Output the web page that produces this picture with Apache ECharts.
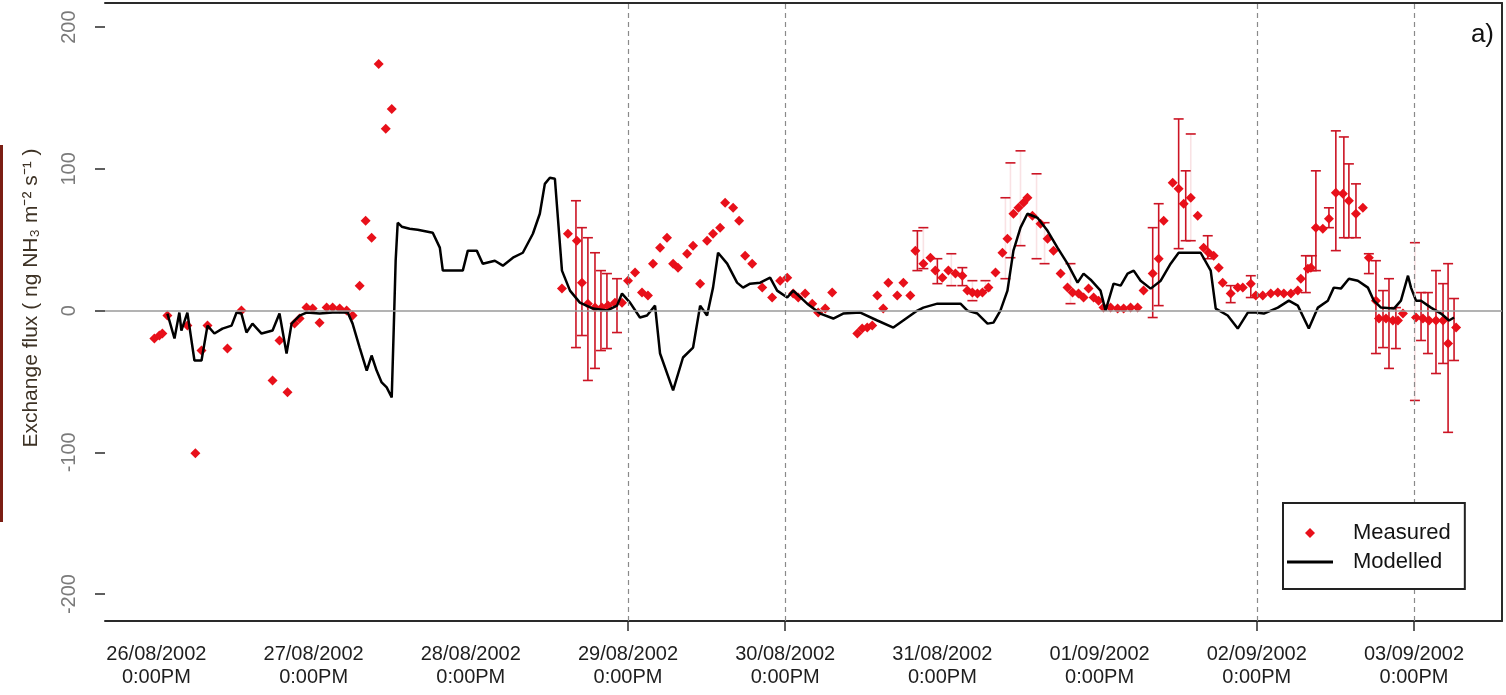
<!DOCTYPE html>
<html>
<head>
<meta charset="utf-8">
<title>NH3 exchange: measured vs modelled</title>
<script src="https://cdn.jsdelivr.net/npm/echarts@6/dist/echarts.min.js"></script>
<style>
  html, body { margin: 0; padding: 0; background: #fff; }
  #chart { width: 1506px; height: 695px; }
</style>
</head>
<body>
<div id="chart"></div>
<script>
// Time is counted in days from 26/08/2002 12:00.
const tickDays = [0, 1, 2, 3, 4, 5, 6, 7, 8];
const tickDates = ['26/08/2002', '27/08/2002', '28/08/2002', '29/08/2002', '30/08/2002',
                   '31/08/2002', '01/09/2002', '02/09/2002', '03/09/2002'];
const tickTimes = ['0:00PM', '0:00PM', '0:00PM', '0:00PM', '0:00PM',
                   '0:00PM', '0:00PM', '0:00PM', '0:00PM'];
const markedDays = [3, 4, 7, 8];
const yTicks = [-200, -100, 0, 100, 200];

// Modelled flux [day, value]
const modelled = [
  [0.070,-2.1],[0.115,-19.7],[0.146,-1.4],[0.159,-14.1],[0.197,-1.4],[0.242,-35.2],[0.287,-35.2],
  [0.325,-10.6],[0.369,-16.2],[0.420,-12.7],[0.478,-10.6],[0.510,-1.4],[0.541,-2.1],[0.573,-15.5],
  [0.611,-9.2],[0.669,-16.2],[0.739,-14.1],[0.783,-2.1],[0.828,-30.3],[0.860,-9.2],[0.911,-3.5],
  [0.955,-1.4],[1.038,-2.1],[1.121,-1.4],[1.217,-1.4],[1.248,-9.2],[1.293,-26.1],[1.338,-42.3],
  [1.369,-31.7],[1.401,-42.3],[1.433,-50.7],[1.465,-54.2],[1.497,-61.3],[1.510,-12.0],[1.522,35.2],
  [1.535,62.0],[1.561,59.2],[1.611,57.7],[1.662,57.0],[1.758,54.9],[1.803,44.4],[1.822,28.2],
  [1.885,28.2],[1.949,28.2],[1.981,42.3],[2.038,42.3],[2.076,33.1],[2.153,35.2],[2.204,31.7],
  [2.268,37.3],[2.331,40.8],[2.395,54.2],[2.439,68.3],[2.471,89.4],[2.503,93.7],[2.535,93.0],
  [2.554,65.5],[2.580,28.2],[2.631,14.1],[2.694,5.6],[2.777,1.4],[2.866,0],[2.930,3.5],[2.962,12.0],
  [3.013,5.6],[3.076,-4.9],[3.121,-3.5],[3.172,3.5],[3.204,-30.3],[3.287,-56.3],[3.350,-33.1],
  [3.414,-26.1],[3.459,3.5],[3.503,-3.5],[3.541,16.2],[3.573,40.8],[3.631,33.1],[3.694,19.7],
  [3.732,16.2],[3.777,19.0],[3.841,19.7],[3.904,23.2],[3.949,14.1],[4.013,9.2],[4.051,14.1],
  [4.140,4.9],[4.223,-2.1],[4.306,-5.6],[4.369,-2.1],[4.478,-1.4],[4.586,-7.0],[4.688,-12.0],
  [4.841,0],[4.879,2.1],[4.968,4.9],[5.115,4.9],[5.159,0],[5.223,-2.1],[5.287,-9.2],[5.325,-8.5],
  [5.369,0],[5.414,14.1],[5.452,42.3],[5.497,58.5],[5.541,68.3],[5.605,65.5],[5.669,56.3],
  [5.732,44.4],[5.796,33.1],[5.860,19.7],[5.898,26.1],[5.943,21.8],[6.006,14.1],[6.038,0],
  [6.089,19.0],[6.134,17.6],[6.178,26.1],[6.217,28.2],[6.261,21.1],[6.325,15.5],[6.389,21.1],
  [6.452,33.1],[6.503,40.8],[6.643,40.8],[6.707,28.2],[6.739,1.4],[6.815,-3.5],[6.879,-12.7],
  [6.943,-1.4],[6.994,-1.4],[7.045,-2.1],[7.134,2.1],[7.204,7.0],[7.261,3.5],[7.331,-12.7],
  [7.389,2.1],[7.452,7.0],[7.490,16.2],[7.535,15.5],[7.586,22.5],[7.643,21.1],[7.707,16.2],
  [7.745,7.0],[7.790,2.1],[7.873,1.4],[7.917,7.0],[7.962,24.6],[7.981,16.2],[8.013,7.0],
  [8.045,7.0],[8.108,2.1],[8.172,-2.1],[8.223,-7.0],[8.255,-4.9]
];

// Measured flux [day, value]
const measured = [
  [-0.013,-19.7],[0.019,-17.6],[0.038,-16.2],[0.070,-3.5],[0.197,-10.6],[0.248,-100.7],[0.287,-28.2],
  [0.325,-10.6],[0.452,-26.8],[0.541,0],[0.739,-49.3],[0.783,-21.1],[0.834,-57.7],[0.879,-9.2],
  [0.911,-5.6],[0.955,2.1],[0.994,1.4],[1.038,-8.5],[1.083,2.1],[1.121,2.1],[1.166,1.4],[1.210,0],
  [1.248,-3.5],[1.293,17.6],[1.331,63.4],[1.369,51.4],[1.414,173.9],[1.459,128.2],[1.497,142.3],
  [2.580,15.5],[2.618,54.2],[2.675,49.3],[2.707,19.7],[2.745,4.9],[2.790,2.1],[2.834,2.1],
  [2.873,3.5],[2.917,5.6],[2.962,5.6],[3.000,21.1],[3.045,26.8],[3.089,12.7],[3.127,10.6],
  [3.159,33.1],[3.204,44.4],[3.248,51.4],[3.287,33.1],[3.318,30.3],[3.376,40.1],[3.414,45.8],
  [3.459,19.0],[3.503,49.3],[3.541,54.2],[3.586,58.5],[3.618,76.1],[3.669,72.5],[3.707,63.4],
  [3.745,38.7],[3.790,33.1],[3.854,16.2],[3.917,9.2],[3.968,21.1],[4.013,23.2],[4.051,12.0],
  [4.083,9.2],[4.127,12.0],[4.172,4.9],[4.210,-1.4],[4.255,1.4],[4.299,12.7],[4.459,-16.2],
  [4.490,-12.7],[4.522,-12.0],[4.554,-10.6],[4.586,10.6],[4.624,1.4],[4.656,19.7],[4.713,10.6],
  [4.752,19.7],[4.796,10.6],[4.828,42.3],[4.879,33.1],[4.924,37.3],[4.955,28.2],[5.000,23.2],
  [5.038,28.2],[5.083,26.1],[5.127,24.6],[5.159,14.1],[5.191,12.7],[5.223,12.0],[5.255,12.7],
  [5.293,16.2],[5.338,26.8],[5.382,40.8],[5.414,50.7],[5.452,68.3],[5.484,72.5],[5.516,76.1],
  [5.541,79.6],[5.573,66.9],[5.624,61.3],[5.669,50.7],[5.707,42.3],[5.752,26.1],[5.796,16.2],
  [5.828,12.7],[5.866,12.0],[5.898,9.2],[5.930,15.5],[5.962,9.2],[5.994,7.0],[6.025,2.1],
  [6.070,2.1],[6.115,1.4],[6.153,1.4],[6.197,2.1],[6.242,2.1],[6.280,14.1],[6.338,26.1],
  [6.376,36.6],[6.408,63.4],[6.465,90.1],[6.503,85.9],[6.535,75.4],[6.580,79.6],[6.624,66.9],
  [6.662,44.4],[6.694,40.8],[6.726,38.7],[6.758,30.3],[6.783,19.7],[6.834,12.0],[6.879,16.2],
  [6.911,16.2],[6.962,19.0],[6.994,10.6],[7.038,10.6],[7.089,12.0],[7.134,12.7],[7.172,12.0],
  [7.217,12.0],[7.261,14.1],[7.280,22.5],[7.325,29.6],[7.344,30.3],[7.376,58.5],[7.420,57.7],
  [7.459,64.8],[7.503,83.1],[7.548,82.4],[7.586,77.5],[7.631,68.3],[7.675,72.5],[7.713,37.3],
  [7.758,7.0],[7.777,-5.6],[7.822,-5.6],[7.866,-7.0],[7.898,-7.0],[7.930,-2.1],[8.013,-4.9],
  [8.057,-5.6],[8.096,-7.0],[8.140,-7.0],[8.185,-7.0],[8.217,-23.2],[8.268,-12.0]
];

// Uncertainty ranges [day, low, high]
const errorBars = [
  [2.669,-26.1,77.5],[2.707,-17.6,58.5],[2.745,-49.3,51.4],[2.790,-40.8,40.8],[2.828,-28.2,28.2],
  [2.866,-26.8,26.1],[2.930,-15.5,22.5],
  [4.841,28.2,56.3],[4.968,19.0,36.6],[5.127,17.6,30.3],
  [6.338,-4.9,58.5],[6.376,3.5,75.4],[6.503,43.7,135.2],[6.548,49.3,98.6],[6.688,36.6,52.8],
  [6.834,5.6,17.6],[6.962,9.2,24.6],
  [7.312,12.7,38.7],[7.350,28.2,38.7],[7.376,28.2,98.6],[7.459,58.5,72.5],[7.503,42.3,126.8],
  [7.554,51.4,122.5],[7.586,51.4,103.5],[7.631,51.4,89.4],[7.713,26.1,40.1],[7.758,-30.3,35.2],
  [7.803,-26.1,14.1],[7.841,-40.8,22.5],[7.885,-26.8,2.1],[8.045,-21.1,12.7],[8.089,-30.3,12.7],
  [8.140,-44.4,28.2],[8.185,-37.3,19.0],[8.217,-85.9,33.1],[8.255,-35.2,8.5]
];
// Ranges whose stems are too faint to see; only the end caps show
const capOnlyBars = [
  [4.879,29.6,58.5],[5.057,17.6,40.1],[5.191,7.0,21.1],[5.274,14.1,21.1],[5.401,22.5,79.6],
  [5.433,37.3,104.2],[5.497,45.8,112.7],[5.599,36.6,96.5],[5.650,33.1,62.0],[5.815,4.9,33.1],
  [6.580,49.3,124.6],[8.006,-63.4,47.9]
];

const FONT = '"Liberation Sans", Arial, sans-serif';
const RED = '#e8101a';
const BAR_RED = '#cc1424';

function makeBarRenderer(stemOpacity) {
  return function (params, api) {
    const x = api.value(0);
    const pLo = api.coord([x, api.value(1)]);
    const pHi = api.coord([x, api.value(2)]);
    const half = 5;
    const style = { stroke: BAR_RED, lineWidth: 1.6 };
    return {
      type: 'group',
      children: [
        { type: 'line', shape: { x1: pLo[0], y1: pLo[1], x2: pHi[0], y2: pHi[1] },
          style: Object.assign({}, style, { opacity: stemOpacity }) },
        { type: 'line', shape: { x1: pLo[0] - half, y1: pLo[1], x2: pLo[0] + half, y2: pLo[1] }, style: style },
        { type: 'line', shape: { x1: pHi[0] - half, y1: pHi[1], x2: pHi[0] + half, y2: pHi[1] }, style: style }
      ]
    };
  };
}

const X_MIN = -0.327, X_MAX = 8.56;
const Y_MIN = -219, Y_MAX = 217;
const FRAME = { color: '#2a2a2a', width: 2 };

const chart = echarts.init(document.getElementById('chart'), null, { renderer: 'canvas' });
chart.setOption({
  animation: false,
  backgroundColor: '#fff',
  textStyle: { fontFamily: FONT },
  grid: { left: 105, right: 4, top: 3, bottom: 74, containLabel: false, outerBoundsMode: 'none' },
  xAxis: [
    {
      type: 'value', min: X_MIN, max: X_MAX, position: 'bottom',
      axisLine: { show: true, onZero: false, lineStyle: FRAME },
      axisTick: { show: true, customValues: markedDays, length: 10, lineStyle: { color: '#2a2a2a', width: 1.5 } },
      axisLabel: {
        customValues: tickDays, margin: 22, fontSize: 20, lineHeight: 23, color: '#1e1e1e', fontFamily: FONT,
        formatter: function (v) { const i = Math.round(v); return tickDates[i] + '\n' + tickTimes[i]; }
      },
      splitLine: { show: false }
    },
    {
      type: 'value', min: X_MIN, max: X_MAX, position: 'top',
      axisLine: { show: true, onZero: false, lineStyle: FRAME },
      axisTick: { show: false }, axisLabel: { show: false }, splitLine: { show: false }
    }
  ],
  yAxis: [
    {
      type: 'value', min: Y_MIN, max: Y_MAX, position: 'left',
      axisLine: { show: false, onZero: false },
      axisTick: { show: true, customValues: yTicks, length: 10, lineStyle: { color: '#2a2a2a', width: 1.5 } },
      axisLabel: { customValues: yTicks, rotate: 90, margin: 26, fontSize: 20, color: '#7a7a7a', fontFamily: FONT },
      splitLine: { show: false },
      name: 'Exchange flux ( ng NH₃ m⁻² s⁻¹ )',
      nameLocation: 'middle', nameGap: 63, nameRotate: 90,
      nameTextStyle: { fontSize: 21, color: '#3d3225', fontFamily: FONT, padding: [0, 0, 0, 28] }
    },
    {
      type: 'value', min: Y_MIN, max: Y_MAX, position: 'right',
      axisLine: { show: true, onZero: false, lineStyle: FRAME },
      axisTick: { show: false }, axisLabel: { show: false }, splitLine: { show: false }
    }
  ],
  legend: {
    orient: 'vertical', left: 1283, top: 503,
    padding: [19, 14, 16, 4], itemGap: 7,
    itemWidth: 46, itemHeight: 10,
    symbolKeepAspect: true,
    backgroundColor: '#fff', borderColor: '#222', borderWidth: 2,
    textStyle: { fontSize: 22, color: '#141414', fontFamily: FONT, padding: [0, 0, 0, 15] },
    data: [
      { name: 'Measured', icon: 'path://M5,0 L10,5 L5,10 L0,5 Z' },
      { name: 'Modelled', icon: 'path://M0,0 L46,0 L46,3 L0,3 Z' }
    ],
    z: 10
  },
  graphic: [
    { type: 'rect', left: 0, top: 145, shape: { width: 3, height: 377 }, style: { fill: '#7b1e14' } },
    { type: 'text', right: 12, top: 22, style: { text: 'a)', fontSize: 26, fill: '#111', fontFamily: FONT } }
  ],
  series: [
    {
      name: 'reference lines', type: 'line', data: [], silent: true, z: 1,
      markLine: {
        silent: true, symbol: 'none', label: { show: false },
        data: [
          { yAxis: 0, lineStyle: { color: '#9a9a9a', width: 1.5, type: 'solid' } }
        ].concat(markedDays.map(function (d) {
          return { xAxis: d, lineStyle: { color: '#8a8a8a', width: 1.2, type: [5, 4] } };
        }))
      }
    },
    {
      name: 'ranges', type: 'custom', renderItem: makeBarRenderer(1), z: 2,
      encode: { x: 0, y: [1, 2] }, data: errorBars, silent: true
    },
    {
      name: 'ranges (caps)', type: 'custom', renderItem: makeBarRenderer(0.12), z: 2,
      encode: { x: 0, y: [1, 2] }, data: capOnlyBars, silent: true
    },
    {
      name: 'Measured', type: 'scatter', data: measured, z: 3,
      symbol: 'diamond', symbolSize: 10,
      itemStyle: { color: RED, opacity: 1 }
    },
    {
      name: 'Modelled', type: 'line', data: modelled, z: 4,
      showSymbol: false, symbol: 'none',
      lineStyle: { color: '#000', width: 2.5 },
      itemStyle: { color: '#000' }
    }
  ]
});
</script>
</body>
</html>
